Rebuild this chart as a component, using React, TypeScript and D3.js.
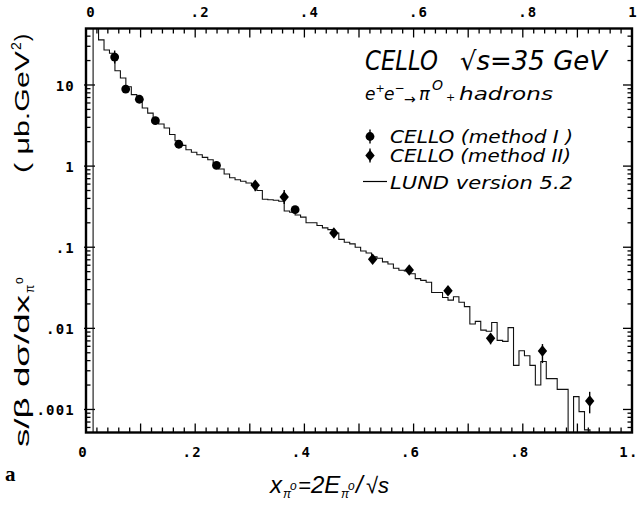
import React from 'react';
import * as d3 from 'd3';

// ---------- data ----------
// LUND 5.2 histogram: bins of width 0.01 starting at x = 0.013
const lundStart = 0.013;
const lundWidth = 0.01;
const lundValues = [
  80, 36, 27, 24.6, 15, 12.2, 9.5, 7.6, 6.5, 5.2,
  4.5, 3.8, 3.3, 2.95, 2.45, 2.05, 1.8, 1.59, 1.48, 1.38,
  1.28, 1.2, 1.05, 0.92, 0.8, 0.72, 0.68, 0.65, 0.62, 0.58,
  0.5, 0.39, 0.385, 0.38, 0.368, 0.28, 0.27, 0.25, 0.235, 0.2,
  0.2, 0.185, 0.173, 0.165, 0.15, 0.125, 0.115, 0.11, 0.1, 0.09,
  0.085, 0.076, 0.073, 0.066, 0.062, 0.055, 0.052, 0.051, 0.047, 0.041,
  0.039, 0.037, 0.0277, 0.0277, 0.024, 0.0223, 0.0245, 0.021, 0.0185, 0.0113,
  0.0122, 0.0095, 0.0092, 0.0118, 0.0071, 0.0069, 0.0102, 0.0035, 0.0053, 0.0046,
  0.0035, 0.002, 0.0039, 0.0024, 0.0024, 0.00177, 0.00177, 0, 0.00144, 0.00094,
  0.00056,
];

// CELLO method I (round markers)
const m1X = [0.0525, 0.0727, 0.0977, 0.127, 0.170, 0.239, 0.383];
const m1Y = [22.1, 8.9, 6.67, 3.63, 1.86, 1.02, 0.29];
const m1Lo = [18.4, 8.1, 6.1, 3.3, 1.69, 0.92, 0.26];
const m1Hi = [26.6, 9.8, 7.3, 4.0, 2.05, 1.13, 0.32];

// CELLO method II (diamond markers)
const m2X = [0.310, 0.363, 0.454, 0.525, 0.592, 0.663, 0.741, 0.836, 0.9225];
const m2Y = [0.58, 0.416, 0.150, 0.071, 0.0524, 0.0291, 0.00753, 0.00525, 0.00127];
const m2Lo = [0.49, 0.341, 0.136, 0.064, 0.047, 0.026, 0.00635, 0.00373, 0.000896];
const m2Hi = [0.66, 0.508, 0.165, 0.078, 0.058, 0.033, 0.00867, 0.0064, 0.00165];

const xTickValues = [0, 0.2, 0.4, 0.6, 0.8, 1.0];
const xTopLabels = ['0', '.2', '.4', '.6', '.8', '1'];
const xBottomLabels = ['0', '.2', '.4', '.6', '.8', '1.'];
const yTickValues = [10, 1, 0.1, 0.01, 0.001];
const yTickLabels = ['10', '1', '.1', '.01', '.001'];

// ---------- layout ----------
const W = 639;
const H = 506;
const L = 86;
const R = 632;
const T = 28.5;
const B = 432.5;

const x = d3.scaleLinear().domain([0, 1]).range([L, R]);
const y = d3.scaleLog().domain([0.00052, 49.7]).range([B, T]);
const yv = (v: number) => (v <= 0 ? B + 3 : y(v));

const tickFont = '"DejaVu Sans Mono", monospace';
const annFont = '"DejaVu Sans", sans-serif';

function Circle({ cx, cy }: { cx: number; cy: number }) {
  return <circle cx={cx} cy={cy} r={4.4} fill="#000" />;
}
function Diamond({ cx, cy }: { cx: number; cy: number }) {
  const a = 4.7, b = 5.8;
  return <path d={`M${cx},${cy - b}L${cx + a},${cy}L${cx},${cy + b}L${cx - a},${cy}Z`} fill="#000" />;
}

export default function App() {
  // histogram path
  const pts: [number, number][] = [[lundStart, 0]];
  lundValues.forEach((v, i) => pts.push([lundStart + i * lundWidth, v]));
  pts.push([lundStart + lundValues.length * lundWidth, 0]);
  const line = d3
    .line<[number, number]>()
    .x((d) => x(d[0]))
    .y((d) => yv(d[1]))
    .curve(d3.curveStepAfter);
  const histPath = line(pts) || '';

  // x ticks every 0.02
  const xMinor = d3.range(0, 51).map((i) => i * 0.02);
  // log ticks
  const logTicks: { v: number; major: boolean }[] = [];
  for (let e = -4; e <= 1; e++) {
    for (let m = 1; m <= 9; m++) {
      const v = m * Math.pow(10, e);
      if (v >= y.domain()[0] && v <= y.domain()[1]) logTicks.push({ v, major: m === 1 });
    }
  }

  return (
    <svg width={W} height={H} style={{ position: 'absolute', left: 0, top: 0, background: '#fff' }}>
      <defs>
        <clipPath id="plotClip">
          <rect x={L} y={T} width={R - L} height={B - T} />
        </clipPath>
      </defs>
      <rect x={0} y={0} width={W} height={H} fill="#fff" />

      {/* ticks */}
      <g stroke="#000" strokeWidth={1.3}>
        {xMinor.map((v, i) => {
          const major = i % 5 === 0;
          const len = major ? 9 : 5;
          return (
            <g key={'xt' + i}>
              <line x1={x(v)} x2={x(v)} y1={B} y2={B - len} />
              <line x1={x(v)} x2={x(v)} y1={T} y2={T + len} />
            </g>
          );
        })}
        {logTicks.map((t, i) => {
          const len = t.major ? 9 : 4.5;
          return (
            <g key={'yt' + i}>
              <line x1={L - (t.major ? 2 : 0)} x2={L + len} y1={y(t.v)} y2={y(t.v)} />
              <line x1={R} x2={R - len} y1={y(t.v)} y2={y(t.v)} />
            </g>
          );
        })}
      </g>

      {/* LUND histogram */}
      <path d={histPath} fill="none" stroke="#111" strokeWidth={1.1} clipPath="url(#plotClip)" />

      {/* frame */}
      <rect x={L} y={T} width={R - L} height={B - T} fill="none" stroke="#000" strokeWidth={2.4} />

      {/* data: method I */}
      {m1X.map((xv, i) => (
        <g key={'m1' + i}>
          <line x1={x(xv)} x2={x(xv)} y1={y(m1Lo[i])} y2={y(m1Hi[i])} stroke="#000" strokeWidth={1.4} />
          <Circle cx={x(xv)} cy={y(m1Y[i])} />
        </g>
      ))}
      {/* data: method II */}
      {m2X.map((xv, i) => (
        <g key={'m2' + i}>
          <line x1={x(xv)} x2={x(xv)} y1={y(m2Lo[i])} y2={y(m2Hi[i])} stroke="#000" strokeWidth={1.4} />
          <Diamond cx={x(xv)} cy={y(m2Y[i])} />
        </g>
      ))}

      {/* tick labels */}
      <g fontFamily={tickFont} fontWeight="bold" fontSize={14} fill="#000" letterSpacing={1.2}>
        {xTickValues.map((v, i) => (
          <text key={'tl' + i} x={i === xTickValues.length - 1 ? x(v) + 1 : x(v) + 5} y={17} textAnchor="middle">
            {xTopLabels[i]}
          </text>
        ))}
        {xTickValues.map((v, i) => (
          <text key={'bl' + i} x={x(v) - 3} y={457} textAnchor="middle">
            {xBottomLabels[i]}
          </text>
        ))}
        {yTickValues.map((v, i) => (
          <text key={'yl' + i} x={75} y={y(v) + 6} textAnchor="end">
            {yTickLabels[i]}
          </text>
        ))}
      </g>

      {/* y axis title */}
      <g transform="translate(29,447) rotate(-90)" fontFamily='"Liberation Sans", sans-serif' fill="#000">
        <text x={0} y={0} fontSize={21} textLength={152} lengthAdjust="spacingAndGlyphs">
          s/β  dσ/dx
        </text>
        <text x={154} y={5} fontSize={12}>π</text>
        <text x={163} y={-6} fontSize={12}>o</text>
        <text x={274} y={0} fontSize={21} textLength={122} lengthAdjust="spacingAndGlyphs">
          ( μb.GeV
        </text>
        <text x={397} y={-8} fontSize={14}>2</text>
        <text x={406} y={0} fontSize={21}>)</text>
      </g>

      {/* x axis title */}
      <g fontFamily='"Liberation Sans", sans-serif' fontStyle="italic" fill="#000">
        <text x={270} y={493} fontSize={24}>x</text>
        <text x={283} y={498} fontSize={12}>π</text>
        <text x={290} y={490} fontSize={12}>o</text>
        <text x={298} y={493} fontSize={22}>=</text>
        <text x={311} y={493} fontSize={24}>2E</text>
        <text x={341} y={498} fontSize={12}>π</text>
        <text x={348} y={490} fontSize={12}>o</text>
        <text x={356} y={493} fontSize={24}>/</text>
        <text x={366} y={493} fontSize={22}>√s</text>
      </g>
      <text x={5} y={481} fontFamily='"Liberation Serif", serif' fontWeight="bold" fontSize={21}>
        a
      </text>

      {/* annotation */}
      <g fontFamily={annFont} fontStyle="italic" fill="#000">
        <text x={365} y={70} fontSize={26} textLength={73} lengthAdjust="spacingAndGlyphs">CELLO</text>
        <text x={460} y={70} fontSize={26} textLength={147} lengthAdjust="spacingAndGlyphs">√s=35 GeV</text>
        <text x={365} y={100} fontSize={17}>e</text>
        <text x={375.5} y={92} fontSize={11}>+</text>
        <text x={384} y={100} fontSize={17}>e</text>
        <text x={394.5} y={92} fontSize={12}>−</text>
        <text x={404} y={104} fontSize={14}>→</text>
        <text x={419} y={100} fontSize={18}>π</text>
        <text x={432} y={90} fontSize={14}>O</text>
        <text x={446} y={101} fontSize={11}>+</text>
        <text x={459} y={100} fontSize={17} textLength={94} lengthAdjust="spacingAndGlyphs">hadrons</text>

        <text x={390} y={143} fontSize={17} textLength={183} lengthAdjust="spacingAndGlyphs">CELLO (method I )</text>
        <text x={390} y={162} fontSize={17} textLength={181} lengthAdjust="spacingAndGlyphs">CELLO (method II)</text>
        <text x={390} y={189} fontSize={17} textLength={183} lengthAdjust="spacingAndGlyphs">LUND  version 5.2</text>
      </g>
      <g stroke="#000" strokeWidth={1.4}>
        <line x1={370} x2={370} y1={129.5} y2={143.5} />
        <line x1={370} x2={370} y1={148.5} y2={162.5} />
        <line x1={363} x2={387} y1={181.5} y2={181.5} strokeWidth={1.2} />
      </g>
      <Circle cx={370} cy={136.5} />
      <Diamond cx={370} cy={155.5} />
    </svg>
  );
}
